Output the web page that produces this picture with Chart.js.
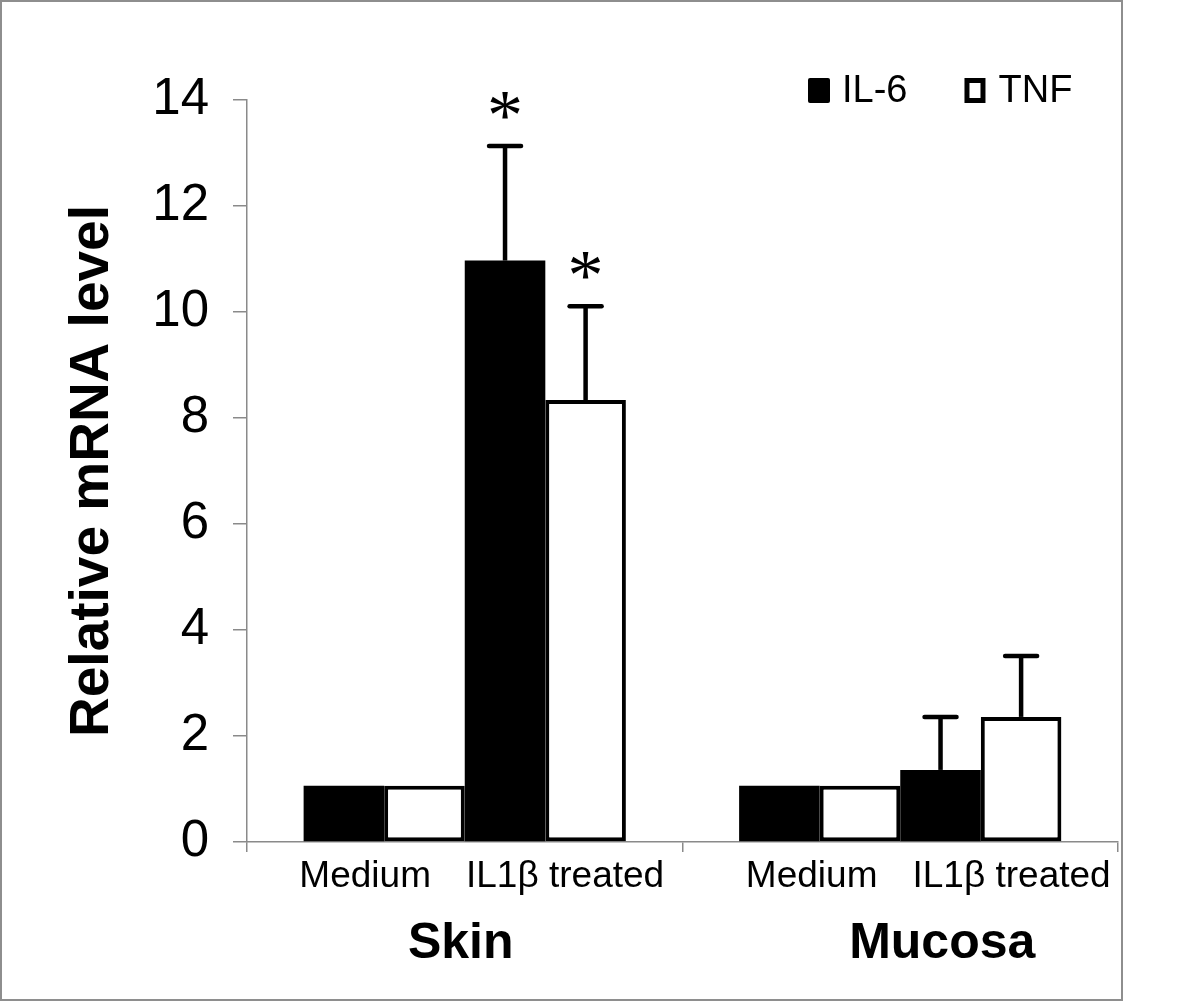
<!DOCTYPE html>
<html>
<head>
<meta charset="utf-8">
<script src="https://cdn.jsdelivr.net/npm/chart.js@4.4.1/dist/chart.umd.min.js"></script>
<style>
  html, body { margin: 0; padding: 0; background: #fff; }
  #frame { position: absolute; left: 0; top: 0; width: 1123px; height: 1001px; box-sizing: border-box; border: 2px solid #8e8e8e; }
  #wrap { position: absolute; left: 0; top: 0; width: 1200px; height: 1002px; }
</style>
</head>
<body>
<div id="frame"></div>
<div id="wrap"><canvas id="chart" width="1200" height="1002"></canvas></div>
<script>
// ─── Data ────────────────────────────────────────────────────────────────────
const groups = ['Skin', 'Mucosa'];
const conditions = ['Medium', 'IL1β treated'];
const seriesNames = ['IL-6', 'TNF'];
// order: Skin Medium, Skin IL1β, Mucosa Medium, Mucosa IL1β
const il6Values = [1.06, 10.97, 1.06, 1.36];
const il6Errors = [0, 2.16, 0, 1.0];
const tnfValues = [1.06, 8.34, 1.06, 2.36];
const tnfErrors = [0, 1.77, 0, 1.15];
const il6Marks = ['', '*', '', ''];
const tnfMarks = ['', '*', '', ''];
const yMin = 0, yMax = 14, yStep = 2;

// ─── Style ───────────────────────────────────────────────────────────────────
const FONT = "'Liberation Sans', Arial, sans-serif";
const AXIS = '#8a8a8a';
const seriesFill = ['#000000', '#ffffff'];

Chart.defaults.font.family = FONT;
Chart.defaults.color = '#000';
Chart.defaults.animation = false;

const values = [il6Values, tnfValues];
const errors = [il6Errors, tnfErrors];
const marks = [il6Marks, tnfMarks];

// one dataset per condition/series pair so the four bars of a group sit side by side
const datasets = [];
conditions.forEach((cond, c) => {
  seriesNames.forEach((name, s) => {
    const pick = arr => groups.map((_, g) => arr[g * conditions.length + c]);
    datasets.push({
      label: name,
      series: s,
      data: pick(values[s]),
      errors: pick(errors[s]),
      marks: pick(marks[s]),
      backgroundColor: seriesFill[s],
      borderColor: '#000',
      borderWidth: s === 0 ? 0 : 4,
      borderSkipped: false,
      categoryPercentage: 0.74,
      barPercentage: 1.0,
    });
  });
});

// ─── Plugins ─────────────────────────────────────────────────────────────────
const errorBars = {
  id: 'errorBars',
  afterDatasetsDraw(chart) {
    const { ctx, scales: { y } } = chart;
    ctx.save();
    ctx.strokeStyle = '#000';
    ctx.fillStyle = '#000';
    chart.data.datasets.forEach((ds, i) => {
      chart.getDatasetMeta(i).data.forEach((bar, j) => {
        const err = ds.errors[j];
        let capY = bar.y;
        if (err) {
          capY = y.getPixelForValue(ds.data[j] + err);
          ctx.lineWidth = 4.5;
          ctx.lineCap = 'butt';
          ctx.beginPath();
          ctx.moveTo(bar.x, bar.y);
          ctx.lineTo(bar.x, capY);
          ctx.stroke();
          ctx.lineCap = 'round';
          ctx.beginPath();
          ctx.moveTo(bar.x - 16, capY);
          ctx.lineTo(bar.x + 16, capY);
          ctx.stroke();
        }
        if (ds.marks[j]) {
          ctx.font = "72px 'Liberation Serif', serif";
          ctx.textAlign = 'center';
          ctx.textBaseline = 'alphabetic';
          const m = ctx.measureText(ds.marks[j]);
          const cy = capY - 41;
          ctx.fillText(ds.marks[j], bar.x, cy + (m.actualBoundingBoxAscent - m.actualBoundingBoxDescent) / 2);
        }
      });
    });
    ctx.restore();
  }
};

const groupLabels = {
  id: 'groupLabels',
  afterDraw(chart) {
    const { ctx, scales: { x }, chartArea } = chart;
    const lineShift = [17, 28];
    const titleShift = [-4, 42];
    ctx.save();
    ctx.fillStyle = '#000';
    ctx.textBaseline = 'alphabetic';
    groups.forEach((g, gi) => {
      const cx = x.getPixelForValue(gi);
      ctx.font = `37px ${FONT}`;
      ctx.textAlign = 'left';
      const gap = 35;
      const widths = conditions.map(t => ctx.measureText(t).width);
      let left = cx + lineShift[gi] - (widths[0] + gap + widths[1]) / 2;
      conditions.forEach((t, k) => {
        ctx.fillText(t, left, chartArea.bottom + 45);
        left += widths[k] + gap;
      });
      ctx.font = `bold 50px ${FONT}`;
      ctx.textAlign = 'center';
      ctx.fillText(g, cx + titleShift[gi], chartArea.bottom + 116);
    });
    ctx.restore();
  }
};

const boxLegend = {
  id: 'boxLegend',
  afterDraw(chart) {
    const { ctx, chartArea } = chart;
    const boxW = 22, boxH = 25, top = 78;
    let xPos = chartArea.right - 310;
    ctx.save();
    ctx.font = `38px ${FONT}`;
    ctx.textBaseline = 'alphabetic';
    ctx.textAlign = 'left';
    seriesNames.forEach((name, s) => {
      if (s === 0) {
        ctx.fillStyle = '#000';
        ctx.beginPath();
        ctx.roundRect(xPos, top, boxW, boxH, 2);
        ctx.fill();
      } else {
        ctx.fillStyle = '#fff';
        ctx.fillRect(xPos, top, boxW - 1, boxH);
        ctx.strokeStyle = '#000';
        ctx.lineWidth = 5;
        ctx.strokeRect(xPos + 2.5, top + 2.5, boxW - 6, boxH - 5);
      }
      ctx.fillStyle = '#000';
      ctx.fillText(name, xPos + boxW + 12, top + 24);
      xPos += boxW + 12 + ctx.measureText(name).width + 57;
    });
    ctx.restore();
  }
};

// ─── Chart ───────────────────────────────────────────────────────────────────
new Chart(document.getElementById('chart'), {
  type: 'bar',
  data: { labels: groups, datasets },
  options: {
    responsive: false,
    devicePixelRatio: 1,
    layout: { padding: { left: 60, top: 100, right: 82, bottom: 0 } },
    plugins: {
      legend: { display: false },
      tooltip: { enabled: false },
    },
    scales: {
      x: {
        type: 'category',
        grid: { offset: true, drawOnChartArea: false, tickLength: 10, color: AXIS, lineWidth: 1.5 },
        border: { color: AXIS, width: 1.5 },
        ticks: { display: false },
        afterFit: scale => { scale.height = 160; },
      },
      y: {
        min: yMin,
        max: yMax,
        ticks: { stepSize: yStep, padding: 24, font: { size: 51 }, color: '#000' },
        grid: { drawOnChartArea: false, tickLength: 14, color: AXIS, lineWidth: 1.5 },
        border: { color: AXIS, width: 1.5 },
        title: {
          display: true,
          text: 'Relative mRNA level',
          font: { size: 55, weight: 'bold' },
          padding: { top: 0, bottom: 0 },
          color: '#000',
        },
        afterFit: scale => { scale.width = 187; },
      }
    }
  },
  plugins: [errorBars, groupLabels, boxLegend]
});
</script>
</body>
</html>
